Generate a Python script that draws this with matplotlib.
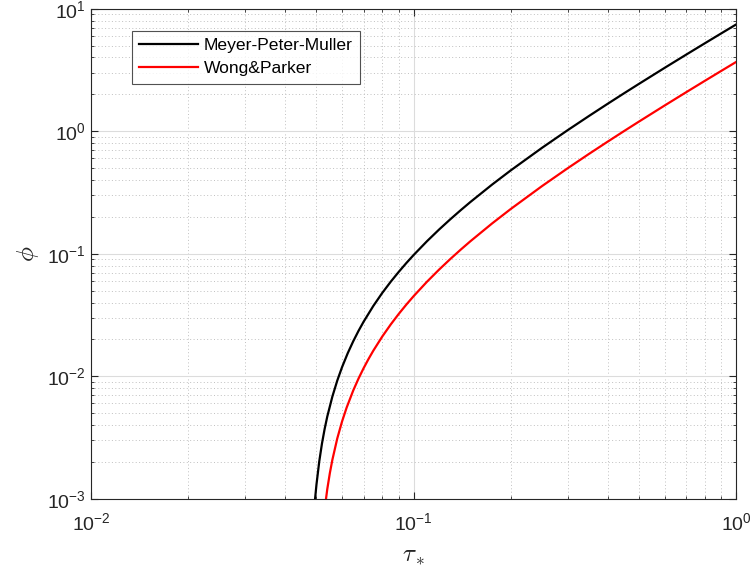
import numpy as np
import matplotlib
matplotlib.use("Agg")
import matplotlib.pyplot as plt
from matplotlib.ticker import LogLocator, NullFormatter

plt.rcParams['font.family'] = ['Liberation Sans', 'DejaVu Sans']
plt.rcParams['mathtext.fontset'] = 'cm'

# bedload transport: dimensionless Shields stress vs transport rate
tau_mpm = [0.049, 0.0495, 0.050, 0.051, 0.052, 0.053, 0.054, 0.056, 0.058, 0.060,
           0.0625, 0.065, 0.0675, 0.070, 0.075, 0.080, 0.085, 0.090, 0.095, 0.100,
           0.110, 0.120, 0.130, 0.140, 0.150, 0.175, 0.200, 0.250, 0.300, 0.350,
           0.400, 0.450, 0.500, 0.600, 0.700, 0.800, 0.900, 1.000]
phi_mpm = [7.16e-4, 1.00e-3, 1.31e-3, 2.02e-3, 2.83e-3, 3.72e-3, 4.69e-3, 6.83e-3, 9.23e-3, 0.01186,
           0.01544, 0.01932, 0.02348, 0.0279, 0.03748, 0.0480, 0.05926, 0.0713, 0.08413, 0.0976,
           0.1265, 0.1578, 0.1913, 0.2269, 0.2645, 0.3664, 0.4788, 0.7317, 1.018, 1.334,
           1.678, 2.047, 2.439, 3.290, 4.221, 5.227, 6.303, 7.443]

tau_wp = [0.053, 0.054, 0.055, 0.056, 0.058, 0.060, 0.062, 0.065, 0.0675, 0.070,
          0.0725, 0.075, 0.080, 0.085, 0.090, 0.095, 0.100, 0.110, 0.120, 0.130,
          0.140, 0.150, 0.175, 0.200, 0.250, 0.300, 0.350, 0.400, 0.450, 0.500,
          0.600, 0.700, 0.800, 0.900, 1.000]
phi_wp = [8.22e-4, 1.198e-3, 1.619e-3, 2.080e-3, 3.111e-3, 4.271e-3, 5.548e-3, 7.661e-3, 9.587e-3, 0.01165,
          0.01385, 0.01617, 0.02115, 0.02655, 0.03236, 0.03853, 0.04505, 0.05908, 0.07432, 0.09068,
          0.1081, 0.1265, 0.1765, 0.2318, 0.3564, 0.4977, 0.6540, 0.8238, 1.0062, 1.2004,
          1.6215, 2.0829, 2.5812, 3.1139, 3.6789]

fig = plt.figure(figsize=(7.52, 5.80), dpi=100)
ax = fig.add_axes([0.121, 0.140, 0.858, 0.845])

ax.plot(tau_mpm, phi_mpm, color='black', lw=1.6, label='Meyer-Peter-Muller')
ax.plot(tau_wp, phi_wp, color='red', lw=1.6, label='Wong&Parker')

ax.set_xscale('log')
ax.set_yscale('log')
ax.set_xlim(1e-2, 1e0)
ax.set_ylim(1e-3, 1e1)

ax.xaxis.set_major_locator(LogLocator(base=10, numticks=10))
ax.yaxis.set_major_locator(LogLocator(base=10, numticks=10))
ax.xaxis.set_minor_locator(LogLocator(base=10, subs=np.arange(2, 10), numticks=20))
ax.yaxis.set_minor_locator(LogLocator(base=10, subs=np.arange(2, 10), numticks=20))
ax.xaxis.set_minor_formatter(NullFormatter())
ax.yaxis.set_minor_formatter(NullFormatter())

# matlab-like grid and ticks
ax.grid(True, which='major', color='#dcdcdc', lw=0.8, ls='-')
ax.grid(True, which='minor', color='#c0c0c0', lw=0.7, ls=(0, (1, 2.5)))
ax.set_axisbelow(True)
ax.tick_params(which='both', direction='in', top=True, right=True, colors='#262626',
               labelsize=14)
ax.tick_params(which='major', length=5)
ax.tick_params(which='minor', length=2.5)
ax.tick_params(axis='x', which='major', pad=10)
ax.tick_params(axis='y', which='major', pad=4)
for s in ax.spines.values():
    s.set_color('#262626')
    s.set_linewidth(0.8)

ax.set_xlabel(r'$\tau_*$', fontsize=18, color='#262626', labelpad=6)
ax.set_ylabel(r'$\phi$', fontsize=18, color='#262626', labelpad=4)

leg = ax.legend(loc='upper left', bbox_to_anchor=(0.063, 0.955), fontsize=12.6,
                handlelength=3.4, frameon=True, fancybox=False, borderpad=0.42,
                labelspacing=0.45, handletextpad=0.3, borderaxespad=0)
leg.get_frame().set_edgecolor('#262626')
leg.get_frame().set_linewidth(0.8)

fig.savefig('out.png', dpi=100)
